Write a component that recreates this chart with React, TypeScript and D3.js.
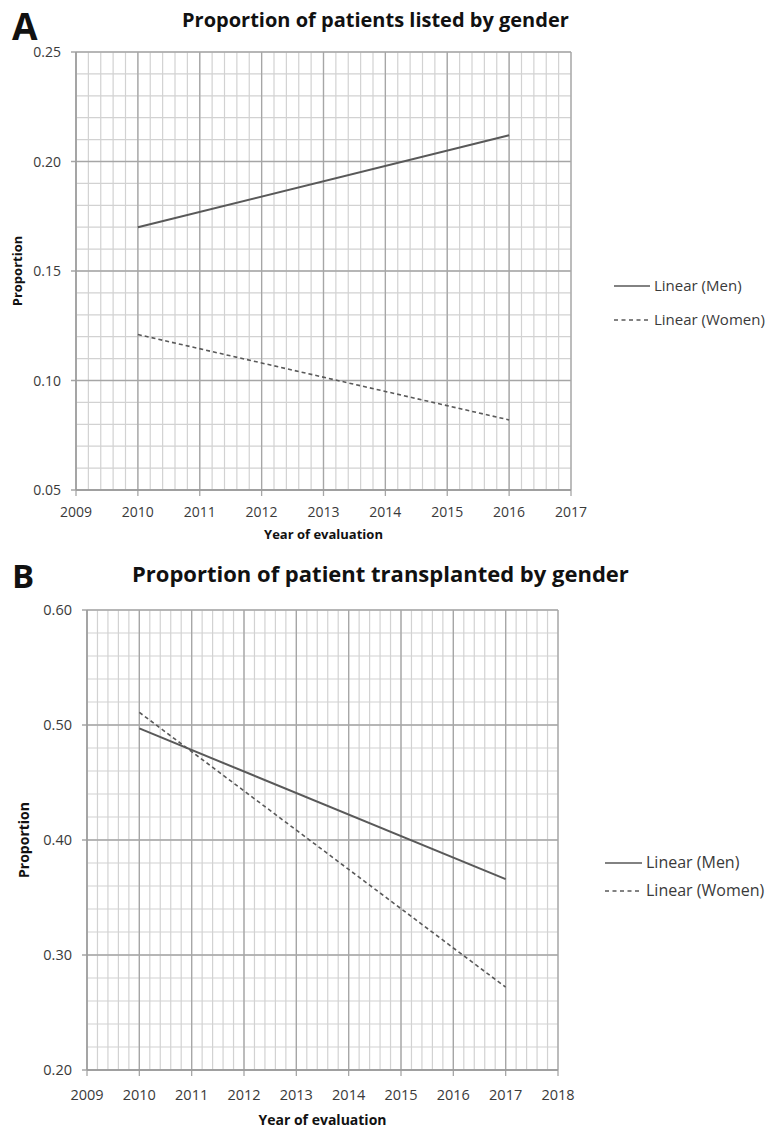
import React from "react";
import * as d3 from "d3";

// values
const yearsA = [2010, 2016];
const menA = [0.17, 0.212];
const womenA = [0.121, 0.082];
const xTicksA = [2009, 2010, 2011, 2012, 2013, 2014, 2015, 2016, 2017];
const yTicksA = [0.05, 0.1, 0.15, 0.2, 0.25];

const yearsB = [2010, 2017];
const menB = [0.497, 0.366];
const womenB = [0.511, 0.272];
const xTicksB = [2009, 2010, 2011, 2012, 2013, 2014, 2015, 2016, 2017, 2018];
const yTicksB = [0.2, 0.3, 0.4, 0.5, 0.6];

const legendLabels = ["Linear (Men)", "Linear (Women)"];

const FONT = "'Open Sans', 'DejaVu Sans', sans-serif";

function Panel(props) {
  const {
    letter, title, box, xTicks, yTicks, yMinor, years, men, women,
    yFmt, legend, xTitleY, yTitleX, fs, xLabelY,
  } = props;

  const x = d3.scaleLinear().domain(d3.extent(xTicks)).range([box.left, box.right]);
  const y = d3.scaleLinear().domain(d3.extent(yTicks)).range([box.bottom, box.top]);

  // minor grid: 5 steps per year, yMinor steps per major y interval
  const xMinor = d3.range(xTicks[0], xTicks[xTicks.length - 1] + 0.001, 0.2);
  const yStep = (yTicks[1] - yTicks[0]) / yMinor;
  const yMinorVals = d3.range(yTicks[0], yTicks[yTicks.length - 1] + 1e-6, yStep);

  const line = d3.line().x((d) => x(d[0])).y((d) => y(d[1]));
  const menPts = years.map((yr, i) => [yr, men[i]]);
  const womenPts = years.map((yr, i) => [yr, women[i]]);

  const cx = (box.left + box.right) / 2;

  return (
    <g>
      <text x={12} y={letter.y} fontFamily={FONT} fontWeight="bold" fontSize={letter.size} fill="#111">
        {letter.t}
      </text>
      <text x={title.x} y={title.y} fontFamily={FONT} fontWeight="bold"
        fontSize={title.size} fill="#111">
        {title.t}
      </text>

      {/* minor grid */}
      {xMinor.map((v, i) => (
        <line key={"xm" + i} x1={x(v)} x2={x(v)} y1={box.top} y2={box.bottom}
          stroke="#d2d2d2" strokeWidth={1.2} />
      ))}
      {yMinorVals.map((v, i) => (
        <line key={"ym" + i} x1={box.left} x2={box.right} y1={y(v)} y2={y(v)}
          stroke="#d2d2d2" strokeWidth={1.2} />
      ))}
      {/* major grid */}
      {xTicks.map((v) => (
        <line key={"xM" + v} x1={x(v)} x2={x(v)} y1={box.top} y2={box.bottom + 6}
          stroke="#a6a6a6" strokeWidth={1.3} />
      ))}
      {yTicks.map((v) => (
        <line key={"yM" + v} x1={box.left - 5} x2={box.right} y1={y(v)} y2={y(v)}
          stroke="#a6a6a6" strokeWidth={1.3} />
      ))}
      <line x1={box.left} x2={box.left} y1={box.top} y2={box.bottom} stroke="#999" strokeWidth={1.3} />
      <line x1={box.left} x2={box.right} y1={box.bottom} y2={box.bottom} stroke="#999" strokeWidth={1.3} />

      {/* tick labels */}
      {xTicks.map((v) => (
        <text key={"xl" + v} x={x(v)} y={xLabelY} textAnchor="middle"
          fontFamily={FONT} fontSize={fs.tick} fill="#3a3a3a">
          {v}
        </text>
      ))}
      {yTicks.map((v) => (
        <text key={"yl" + v} x={box.left - 15} y={y(v) + 5} textAnchor="end"
          fontFamily={FONT} fontSize={fs.tick} fill="#3a3a3a">
          {yFmt(v)}
        </text>
      ))}

      <text x={cx} y={xTitleY} textAnchor="middle" fontFamily={FONT} fontWeight="bold"
        fontSize={fs.axis} fill="#111">
        Year of evaluation
      </text>
      <text transform={`translate(${yTitleX},${(box.top + box.bottom) / 2}) rotate(-90)`}
        textAnchor="middle" fontFamily={FONT} fontWeight="bold" fontSize={fs.axis} fill="#111">
        Proportion
      </text>

      {/* trend lines */}
      <path d={line(menPts)} fill="none" stroke="#595959" strokeWidth={2} />
      <path d={line(womenPts)} fill="none" stroke="#595959" strokeWidth={1.6} strokeDasharray="4,3" />

      {/* legend */}
      {legendLabels.map((lab, i) => (
        <g key={lab} transform={`translate(${legend.x},${legend.y + i * legend.gap})`}>
          <line x1={0} x2={legend.w} y1={0} y2={0} stroke="#595959"
            strokeWidth={i === 0 ? 1.6 : 1.4} strokeDasharray={i === 0 ? null : "4,3.5"} />
          <text x={legend.w + 4} y={5} fontFamily={FONT} fontSize={fs.legend} fill="#3a3a3a">
            {lab}
          </text>
        </g>
      ))}
    </g>
  );
}

export default function App() {
  return (
    <svg width={771} height={1134} style={{ position: "absolute", left: 0, top: 0, background: "#fff" }}>
      <Panel
        letter={{ t: "A", y: 40, size: 37 }}
        title={{ t: "Proportion of patients listed by gender", x: 182, y: 27, size: 20 }}
        box={{ left: 76, right: 571, top: 52, bottom: 490 }}
        xTicks={xTicksA}
        yTicks={yTicksA}
        yMinor={5}
        years={yearsA}
        men={menA}
        women={womenA}
        yFmt={d3.format(".2f")}
        legend={{ x: 614, y: 286, w: 36, gap: 34 }}
        xLabelY={517}
        xTitleY={539}
        yTitleX={22}
        fs={{ tick: 14, axis: 13, legend: 15 }}
      />
      <Panel
        letter={{ t: "B", y: 588, size: 33 }}
        title={{ t: "Proportion of patient transplanted by gender", x: 132, y: 582, size: 22 }}
        box={{ left: 87, right: 558, top: 610, bottom: 1070 }}
        xTicks={xTicksB}
        yTicks={yTicksB}
        yMinor={5}
        years={yearsB}
        men={menB}
        women={womenB}
        yFmt={d3.format(".2f")}
        legend={{ x: 605, y: 863, w: 37, gap: 28 }}
        xLabelY={1100}
        xTitleY={1125}
        yTitleX={29}
        fs={{ tick: 14.5, axis: 14, legend: 16 }}
      />
    </svg>
  );
}
